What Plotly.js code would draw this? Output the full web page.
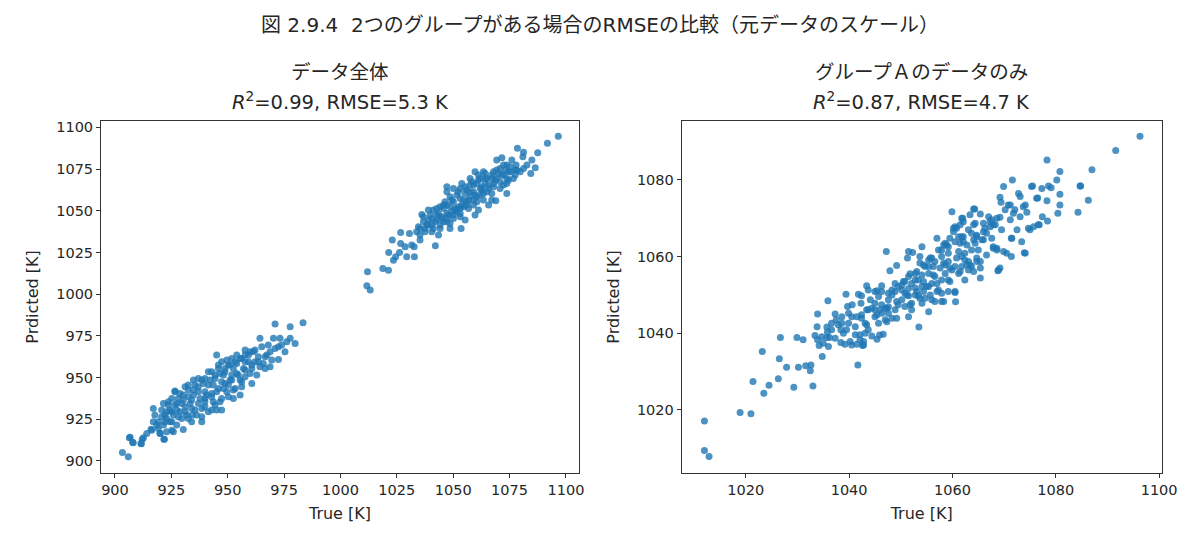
<!DOCTYPE html>
<html>
<head>
<meta charset="utf-8">
<script src="https://cdn.plot.ly/plotly-3.0.1.min.js"></script>
<style>
  html, body { margin: 0; padding: 0; background: #fff; }
  #chart { width: 1200px; height: 538px; }
</style>
</head>
<body>
<div id="chart"></div>
<script>
// Titres
const figTitle = '図 2.9.4  2つのグループがある場合のRMSEの比較（元データのスケール）';
const leftTitle = ['データ全体', '<i>R</i><sup>2</sup>=0.99, RMSE=5.3 K'];
const rightTitle = ['グループＡのデータのみ', '<i>R</i><sup>2</sup>=0.87, RMSE=4.7 K'];
const xLabel = 'True [K]';
const yLabel = 'Prdicted [K]';

// Ticks
const leftTicks = [900, 925, 950, 975, 1000, 1025, 1050, 1075, 1100];
const rightTicks = [1020, 1040, 1060, 1080, 1100];

// Panneau gauche : groupe A (modele sur toutes les donnees)
const allATrue = [
  1096.6, 1091.8, 1087.5, 1078.5, 1081.2, 1084.9, 1086.4, 1084.4, 1080.9, 1071.6,
  1069.3, 1076.0, 1077.9, 1081.2, 1079.7, 1077.5, 1073.8, 1070.8, 1067.9, 1072.3,
  1074.5, 1072.3, 1073.8, 1069.3, 1067.9, 1065.7, 1064.2, 1064.9, 1062.0, 1059.7,
  1060.5, 1062.7, 1063.4, 1065.7, 1068.9, 1060.5, 1057.5, 1056.0, 1053.1, 1057.5,
  1054.6, 1059.0, 1061.2, 1059.7, 1055.3, 1053.5, 1051.6, 1048.6, 1047.2, 1050.1,
  1052.3, 1048.6, 1046.4, 1044.2, 1047.2, 1050.1, 1053.1, 1043.5, 1041.2, 1039.8,
  1042.7, 1045.7, 1048.6, 1039.0, 1036.1, 1036.8, 1034.6, 1037.5, 1040.5, 1043.5,
  1042.1, 1035.3, 1033.8, 1035.3, 1030.6, 1026.7, 1023.0, 1026.7, 1028.7, 1031.6,
  1032.7, 1029.4, 1032.8, 1026.2, 1024.5, 1023.5, 1021.4, 1012.0, 1018.8, 1021.3,
  1045.7, 1042.7, 1047.2, 1051.6, 1054.6, 1056.0, 1059.0, 1062.0, 1064.2, 1067.1,
  1070.1, 1073.1, 1075.3, 1076.7, 1070.8, 1067.1, 1063.4, 1060.5, 1056.8, 1053.1,
  1049.4, 1044.9, 1040.5, 1038.3, 1044.2, 1047.2, 1053.1, 1055.3, 1059.0, 1061.2,
  1063.4, 1057.5, 1053.8, 1050.1, 1047.2, 1050.9, 1039.0, 1036.8, 1048.6, 1067.1,
  1073.8, 1077.5, 1082.7, 1011.7, 1013.2,
  1039.0, 1042.0, 1044.9, 1047.9, 1050.9, 1053.8, 1056.8, 1059.7, 1062.7, 1065.7,
  1068.6, 1071.6, 1074.5, 1041.2, 1044.2, 1047.2, 1050.1, 1053.1, 1056.0, 1059.0,
  1062.0, 1064.9, 1067.9, 1070.8, 1073.8, 1042.7, 1045.7, 1049.4, 1052.3, 1055.3,
  1058.3, 1061.2, 1064.2, 1067.1, 1069.3, 1072.3, 1037.5, 1035.3, 1040.5, 1057.5,
  1075.3, 1078.2
];
const allAPred = [
  1094.6, 1090.4, 1084.8, 1087.4, 1085.0, 1080.4, 1075.8, 1072.4, 1082.4, 1081.8,
  1080.4, 1080.4, 1077.4, 1075.4, 1073.4, 1071.4, 1077.4, 1075.4, 1073.4, 1071.4,
  1068.4, 1065.4, 1060.4, 1069.4, 1066.4, 1063.4, 1072.4, 1069.4, 1069.4, 1073.4,
  1066.4, 1064.4, 1060.4, 1053.4, 1056.0, 1058.4, 1065.4, 1062.4, 1063.4, 1058.4,
  1056.4, 1053.4, 1050.4, 1047.4, 1044.4, 1039.4, 1059.4, 1058.4, 1061.4, 1055.4,
  1052.4, 1052.4, 1055.4, 1052.4, 1048.4, 1047.4, 1048.4, 1048.4, 1050.4, 1047.4,
  1044.4, 1043.4, 1042.4, 1044.4, 1047.8, 1043.4, 1040.4, 1039.4, 1037.4, 1035.4,
  1029.0, 1035.4, 1037.4, 1032.4, 1036.4, 1037.0, 1032.4, 1030.4, 1028.4, 1029.4,
  1028.4, 1022.4, 1022.4, 1025.0, 1022.4, 1020.4, 1025.0, 1013.4, 1015.4, 1014.4,
  1051.4, 1047.4, 1045.4, 1049.4, 1052.4, 1055.4, 1061.4, 1063.4, 1066.4, 1069.4,
  1072.4, 1074.4, 1073.4, 1069.4, 1063.4, 1060.4, 1056.4, 1055.4, 1051.4, 1046.4,
  1049.4, 1046.4, 1041.4, 1041.4, 1039.4, 1053.4, 1057.4, 1060.4, 1065.4, 1071.4,
  1073.4, 1069.4, 1066.4, 1063.4, 1064.4, 1051.4, 1050.4, 1046.4, 1039.4, 1056.4,
  1066.4, 1074.4, 1077.4, 1005.1, 1002.5,
  1041.4, 1043.4, 1045.4, 1047.4, 1050.4, 1053.4, 1056.4, 1059.4, 1062.4, 1065.4,
  1068.4, 1071.4, 1073.4, 1039.4, 1041.4, 1043.4, 1045.4, 1051.4, 1053.4, 1056.4,
  1059.4, 1061.4, 1064.4, 1067.4, 1069.4, 1051.4, 1053.4, 1056.4, 1061.4, 1064.4,
  1067.4, 1068.4, 1069.4, 1071.4, 1074.4, 1077.4, 1037.4, 1039.4, 1045.4, 1061.4,
  1076.4, 1074.4
];

// Panneau gauche : groupe B
const grpBTrue = [
  983.4, 977.7, 971.0, 979.9, 976.2, 973.2, 972.5, 968.8, 972.5, 968.8,
  964.3, 965.1, 961.4, 957.7, 963.6, 965.8, 960.7, 959.2, 956.2, 954.0,
  951.8, 950.3, 947.3, 960.7, 955.5, 956.2, 951.8, 948.8, 945.9, 942.9,
  944.4, 947.3, 950.3, 953.3, 950.3, 946.6, 945.1, 947.3, 942.9, 941.4,
  938.5, 941.4, 939.9, 938.5, 935.5, 934.8, 937.7, 934.8, 932.5, 930.3,
  928.1, 926.6, 925.2, 933.3, 931.1, 928.8, 925.9, 922.9, 923.7, 921.5,
  917.0, 917.7, 919.2, 921.5, 924.4, 927.4, 930.3, 925.2, 922.9, 920.0,
  921.9, 916.3, 914.1, 912.1, 911.5, 908.1, 906.4, 903.3, 905.9, 917.0,
  919.2, 926.6, 931.8, 935.5, 939.9, 942.9, 945.1, 948.1, 951.0, 954.0,
  957.0, 959.2, 962.1, 955.5, 952.5, 948.1, 943.6, 940.7, 937.0, 934.0,
  929.6, 927.4, 929.6, 934.0, 938.5, 944.4, 949.6, 952.5, 957.7, 962.9,
  966.6, 969.5, 968.0, 975.4, 970.3, 977.7, 945.1, 939.9, 931.1, 926.6,
  934.3, 938.5, 925.2, 920.7, 922.9, 906.7, 907.8, 911.7, 912.6, 916.0,
  920.0, 921.7,
  922.2, 924.4, 927.4, 930.3, 932.5, 934.8, 937.0, 939.2, 942.2, 944.4,
  946.6, 948.8, 951.0, 953.3, 955.5, 957.7, 959.9, 962.1, 925.2, 928.1,
  931.1, 934.0, 937.0, 939.9, 942.9, 945.9, 948.8, 951.8, 954.7, 957.7,
  960.7, 963.6, 966.6, 920.7, 923.7, 928.8, 932.5, 937.0, 941.4, 945.9,
  949.6, 954.0, 957.7, 947.3, 943.6, 939.9, 936.2, 932.5, 952.5, 956.2,
  959.9, 964.3, 967.3, 971.0, 973.9, 922.2, 918.5, 925.9
];
const grpBPred = [
  982.9, 980.5, 982.1, 970.5, 971.5, 973.5, 968.5, 965.5, 960.9, 956.5,
  973.5, 968.5, 965.5, 966.5, 962.5, 958.5, 955.5, 959.5, 961.5, 958.5,
  961.5, 957.5, 959.5, 946.5, 939.5, 944.5, 951.5, 953.5, 955.5, 953.5,
  949.5, 947.5, 945.5, 943.5, 938.5, 935.5, 930.5, 930.5, 930.5, 929.5,
  926.5, 945.5, 941.5, 948.5, 945.5, 948.5, 937.5, 939.5, 942.5, 939.5,
  937.5, 941.5, 937.5, 934.5, 932.5, 929.5, 927.5, 929.5, 933.5, 934.5,
  931.5, 927.5, 923.5, 921.5, 923.5, 921.5, 918.9, 918.5, 917.5, 916.5,
  913.1, 918.5, 916.5, 913.1, 910.5, 910.9, 913.9, 905.1, 902.5, 923.5,
  919.5, 933.5, 927.5, 930.5, 935.5, 938.5, 941.5, 943.5, 948.5, 952.5,
  955.5, 963.5, 959.5, 948.5, 955.5, 951.5, 945.5, 939.5, 941.5, 936.5,
  934.5, 930.5, 925.5, 923.5, 931.5, 933.5, 941.5, 937.5, 950.5, 951.5,
  955.5, 960.5, 969.5, 965.5, 973.5, 973.5, 963.5, 949.5, 944.5, 941.9,
  927.5, 923.5, 929.5, 926.5, 925.5, 914.2, 911.2, 910.4, 914.0, 919.0,
  916.6, 913.0,
  927.5, 930.5, 934.5, 936.5, 938.5, 942.5, 944.5, 946.5, 948.5, 951.5,
  952.5, 955.5, 957.5, 959.5, 961.5, 963.5, 965.5, 966.5, 923.5, 926.5,
  929.5, 931.5, 934.5, 937.5, 940.5, 943.5, 946.5, 948.5, 951.5, 954.5,
  957.5, 959.5, 962.5, 930.5, 935.5, 940.5, 945.5, 949.5, 953.5, 957.5,
  960.5, 963.5, 959.5, 937.5, 935.5, 932.5, 927.5, 925.5, 942.5, 947.5,
  952.5, 956.5, 963.5, 967.5, 969.5, 923.5, 921.5, 917.5
];

// Panneau droit : groupe A seul
const onlyATrue = [
  1012.0, 1012.0, 1012.9, 1018.9, 1021.0, 1021.4, 1023.5, 1024.5, 1023.2, 1026.5,
  1026.7, 1026.3, 1027.9, 1029.3, 1029.9, 1031.1, 1030.2, 1031.6, 1032.6, 1032.5,
  1033.0, 1034.8, 1033.9, 1035.9, 1041.7, 1053.5, 1047.2, 1033.4, 1033.9, 1034.2,
  1035.7, 1036.2, 1036.0, 1033.8, 1035.7, 1035.8, 1037.3, 1037.5, 1037.9, 1038.4,
  1038.9, 1038.4, 1039.2, 1040.5, 1041.5, 1042.6, 1042.8, 1039.4, 1039.7, 1040.6,
  1041.8, 1042.3, 1043.7, 1044.1, 1045.0, 1045.7, 1046.3, 1047.6, 1043.1, 1043.7,
  1044.4, 1045.4, 1045.9, 1046.6, 1041.2, 1039.9, 1041.5, 1042.4, 1045.0, 1046.0,
  1047.0, 1047.6, 1047.0, 1048.3, 1048.9, 1049.5, 1050.2, 1050.8, 1051.5, 1052.1,
  1054.1, 1055.4, 1054.7, 1056.6, 1057.9, 1057.9, 1059.2, 1060.5, 1060.6, 1050.8,
  1052.8, 1048.3, 1045.0, 1045.7, 1044.4, 1043.4, 1042.4, 1040.5, 1038.6, 1036.6,
  1035.0, 1034.7, 1037.3, 1039.5, 1041.2, 1042.1, 1043.1, 1047.9, 1049.2, 1051.3,
  1051.5, 1052.3, 1053.7, 1054.1, 1053.7, 1054.7, 1055.4, 1056.0, 1056.3, 1057.0,
  1057.3, 1057.9, 1058.3, 1058.6, 1059.2, 1059.9, 1060.2, 1060.5, 1061.2, 1061.5,
  1061.8, 1061.8, 1062.1, 1062.4, 1063.1, 1063.4, 1063.7, 1064.3, 1064.4, 1064.7,
  1065.0, 1065.4, 1065.4, 1065.4, 1065.7, 1066.0, 1066.6, 1067.0, 1067.3, 1067.6,
  1067.9, 1068.3, 1068.6, 1068.8, 1069.2, 1069.2, 1069.5, 1069.9, 1070.2, 1070.5,
  1070.8, 1071.2, 1071.4, 1071.6, 1071.8, 1072.1, 1072.5, 1072.8, 1073.1, 1073.4,
  1073.7, 1074.1, 1074.7, 1075.0, 1075.3, 1075.7, 1076.3, 1076.6, 1077.3, 1077.4,
  1078.3, 1078.3, 1078.4, 1078.6, 1079.1, 1080.2, 1080.4, 1080.8, 1080.8, 1080.8,
  1084.3, 1084.7, 1086.3, 1087.0, 1091.6, 1096.3, 1048.3, 1048.9, 1049.5, 1050.8,
  1051.5, 1052.1, 1052.8, 1053.4, 1054.1, 1054.4, 1055.4, 1056.0, 1056.6, 1057.3,
  1057.9, 1058.3, 1058.6, 1059.2, 1059.9, 1061.2, 1061.8, 1062.4, 1063.1, 1063.7,
  1055.4, 1056.0, 1053.4, 1051.5, 1050.2, 1046.3, 1045.4, 1043.4, 1042.4, 1049.2,
  1047.3, 1050.5, 1051.8, 1053.1, 1054.4, 1055.7, 1058.3, 1059.5, 1060.8, 1062.1,
  1064.7, 1067.3, 1068.6, 1068.9, 1060.5, 1051.8, 1053.7, 1055.7, 1057.0, 1059.5,
  1061.5, 1063.4, 1064.7, 1066.6, 1068.6, 1071.5, 1062.8, 1061.2, 1059.2, 1057.6,
  1056.3, 1054.4, 1052.8, 1051.2, 1049.2, 1047.3, 1045.4, 1043.4, 1042.1, 1040.2,
  1042.8, 1075.5, 1084.8, 1076.5, 1073.1, 1069.4, 1071.2, 1074.1, 1074.4, 1076.8,
  1073.9, 1071.4, 1062.0, 1064.1, 1067.9, 1066.0, 1064.1, 1061.5, 1060.2, 1062.1,
  1064.1, 1066.0, 1067.9, 1069.9, 1064.7, 1062.8, 1060.8, 1058.9, 1059.5, 1064.1,
  1065.4, 1069.2,
  1046.3, 1047.6, 1048.9, 1050.2, 1051.5, 1052.8, 1054.1, 1055.4, 1056.6, 1057.9,
  1059.2, 1060.5, 1061.8, 1063.1, 1064.4, 1066.3, 1067.6, 1046.3, 1045.0, 1043.7,
  1047.6, 1052.1, 1053.1, 1055.0, 1057.0, 1058.6, 1060.5, 1062.4, 1063.7, 1039.9,
  1038.6, 1036.6
];
const onlyAPred = [
  1017.1, 1009.4, 1007.8, 1019.3, 1019.0, 1027.4, 1024.3, 1026.4, 1035.2, 1033.3,
  1038.9, 1028.1, 1031.1, 1025.9, 1038.9, 1038.3, 1031.1, 1031.5, 1031.7, 1030.2,
  1026.2, 1033.9, 1045.0, 1048.5, 1031.7, 1041.6, 1061.3, 1039.4, 1038.3, 1036.8,
  1038.9, 1038.9, 1036.5, 1041.7, 1041.6, 1040.3, 1045.0, 1043.5, 1042.2, 1040.9,
  1040.0, 1037.6, 1037.1, 1036.9, 1037.1, 1036.8, 1037.8, 1050.2, 1047.0, 1047.4,
  1050.2, 1047.8, 1051.3, 1048.7, 1050.9, 1049.6, 1050.9, 1050.4, 1042.6, 1040.9,
  1039.3, 1038.4, 1039.5, 1039.7, 1041.7, 1042.6, 1044.3, 1044.8, 1044.3, 1046.1,
  1046.5, 1045.2, 1043.5, 1043.9, 1046.1, 1047.4, 1048.7, 1047.0, 1044.3, 1046.1,
  1047.8, 1045.6, 1049.1, 1048.3, 1048.3, 1050.4, 1050.9, 1050.6, 1048.2, 1050.4,
  1050.0, 1050.0, 1046.1, 1042.6, 1046.5, 1046.1, 1043.9, 1044.3, 1042.6, 1040.9,
  1037.4, 1039.1, 1038.7, 1040.9, 1039.6, 1038.3, 1040.0, 1056.3, 1057.7, 1059.6,
  1061.3, 1061.1, 1060.0, 1062.6, 1058.3, 1057.4, 1059.1, 1059.6, 1057.4, 1064.8,
  1061.7, 1060.0, 1058.3, 1063.5, 1060.9, 1071.7, 1067.4, 1067.8, 1065.2, 1063.5,
  1070.0, 1060.0, 1063.9, 1059.1, 1058.7, 1070.9, 1066.1, 1072.4, 1068.7, 1065.2,
  1061.7, 1071.1, 1058.7, 1054.4, 1064.4, 1068.7, 1066.1, 1070.4, 1067.8, 1064.8,
  1062.6, 1068.3, 1061.7, 1056.3, 1075.5, 1070.3, 1067.0, 1078.3, 1072.2, 1060.9,
  1073.5, 1069.6, 1060.0, 1080.0, 1071.3, 1072.2, 1067.0, 1076.5, 1070.4, 1063.9,
  1073.0, 1060.9, 1067.4, 1067.0, 1078.3, 1067.8, 1075.2, 1068.3, 1077.8, 1070.4,
  1085.2, 1074.6, 1069.3, 1078.4, 1078.0, 1080.0, 1071.3, 1082.2, 1076.3, 1073.5,
  1071.6, 1078.4, 1074.7, 1082.7, 1087.7, 1091.4, 1051.3, 1053.0, 1052.2, 1053.5,
  1054.8, 1053.0, 1055.6, 1053.9, 1052.2, 1050.9, 1055.6, 1053.0, 1054.8, 1051.3,
  1053.9, 1048.3, 1055.6, 1053.9, 1056.5, 1055.6, 1057.4, 1053.9, 1056.5, 1057.4,
  1052.2, 1048.7, 1049.8, 1049.8, 1051.3, 1052.4, 1051.1, 1052.4, 1049.8, 1043.9,
  1043.0, 1053.5, 1055.5, 1056.1, 1057.8, 1059.6, 1063.0, 1064.8, 1067.4, 1069.1,
  1065.6, 1069.1, 1070.0, 1056.5, 1050.9, 1047.4, 1049.1, 1050.0, 1050.9, 1053.5,
  1056.1, 1057.8, 1059.6, 1060.4, 1062.2, 1064.8, 1063.0, 1061.3, 1058.7, 1057.0,
  1055.2, 1053.5, 1051.8, 1050.0, 1048.3, 1046.5, 1044.8, 1042.2, 1039.6, 1037.8,
  1036.9, 1078.4, 1078.4, 1075.3, 1075.7, 1074.2, 1073.5, 1073.5, 1071.6, 1068.3,
  1061.0, 1064.8, 1070.0, 1072.4, 1068.3, 1066.5, 1068.3, 1068.3, 1066.5, 1065.2,
  1064.4, 1064.4, 1062.2, 1061.3, 1058.7, 1057.8, 1059.6, 1063.0, 1057.0, 1056.1,
  1057.0, 1057.0,
  1047.4, 1048.7, 1050.9, 1052.6, 1051.7, 1053.9, 1055.2, 1057.4, 1058.7, 1061.7,
  1062.6, 1063.9, 1065.2, 1067.0, 1063.5, 1067.4, 1069.6, 1045.2, 1047.8, 1046.1,
  1046.9, 1047.8, 1050.9, 1052.2, 1053.0, 1057.8, 1057.4, 1060.9, 1061.7, 1045.2,
  1044.3, 1042.6
];

const txtColor = '#262626';
const baseFont = { family: '"DejaVu Sans", "Noto Sans CJK JP", sans-serif', color: txtColor };
const dotStyle = { size: 7, color: '#1f77b4', opacity: 0.8, line: { width: 0 } };

function scatter(x, y, xa, ya) {
  return { type: 'scatter', mode: 'markers', x, y, xaxis: xa, yaxis: ya,
           marker: dotStyle, hoverinfo: 'x+y', showlegend: false };
}

function axisCommon(ticks, range, domain, anchor, title, standoff) {
  return {
    domain, anchor, range, tickvals: ticks, ticktext: ticks.map(String),
    showgrid: false, zeroline: false,
    showline: true, mirror: true, linecolor: '#333', linewidth: 1,
    ticks: 'outside', ticklen: 4, tickcolor: '#333', tickwidth: 1,
    tickfont: { ...baseFont, size: 14.5 },
    title: { text: title, font: { ...baseFont, size: 16 }, standoff },
    automargin: false
  };
}

const yDom = [1 - 473 / 538, 1 - 121 / 538];

const traces = [
  scatter(grpBTrue, grpBPred, 'x', 'y'),
  scatter(allATrue, allAPred, 'x', 'y'),
  scatter(onlyATrue, onlyAPred, 'x2', 'y2')
];

function titleAnno(text, x, ypx, size) {
  return { text, x, y: 1 - ypx / 538, xref: 'paper', yref: 'paper',
           xanchor: 'center', yanchor: 'middle', showarrow: false,
           font: { ...baseFont, size } };
}

const layout = {
  width: 1200, height: 538,
  margin: { l: 0, r: 0, t: 0, b: 0 },
  paper_bgcolor: '#fff', plot_bgcolor: '#fff',
  font: baseFont,
  xaxis: axisCommon(leftTicks, [893.8, 1105.8], [101 / 1200, 579 / 1200], 'y', xLabel, 10),
  yaxis: axisCommon(leftTicks, [892.8, 1103.8], yDom, 'x', yLabel, 13),
  xaxis2: axisCommon(rightTicks, [1007.6, 1100.5], [681.7 / 1200, 1161.7 / 1200], 'y2', xLabel, 10),
  yaxis2: axisCommon(rightTicks, [1003.5, 1095.4], yDom, 'x2', yLabel, 13),
  annotations: [
    titleAnno(figTitle, 0.5, 25, 20),
    titleAnno(leftTitle[0], 340 / 1200, 72, 19.5),
    titleAnno(leftTitle[1], 340 / 1200, 101, 19.5),
    titleAnno(rightTitle[0], 921.7 / 1200, 72, 19.5),
    titleAnno(rightTitle[1], 921.7 / 1200, 101, 19.5)
  ]
};

Plotly.newPlot('chart', traces, layout, { displayModeBar: false, staticPlot: true });
</script>
</body>
</html>
